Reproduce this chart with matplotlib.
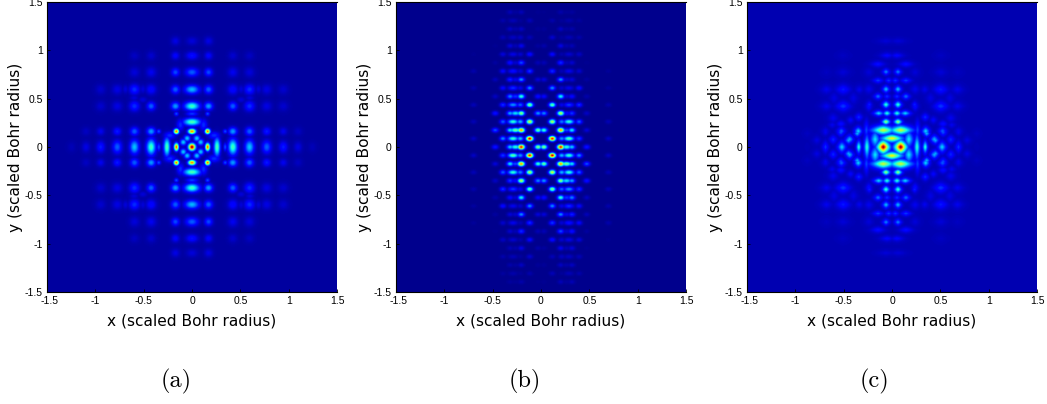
import numpy as np
import matplotlib
matplotlib.use('Agg')
import matplotlib.pyplot as plt
from matplotlib.transforms import ScaledTranslation

W, H = 1047, 404

# Tick labels and captions
tick_vals = [-1.5, -1, -0.5, 0, 0.5, 1, 1.5]
tick_labels = ['-1.5', '-1', '-0.5', '0', '0.5', '1', '1.5']
captions = ['(a)', '(b)', '(c)']

# Panel (a), one quadrant of peaks, mirrored in both axes
a_x = [0, .162, 0, .162, .05, .09, .26, 0, .345, 0, .162, .345, .23, .12,
       .424, .597, .776, .948, 1.10, 1.25, 0, 0, 0, 0, 0,
       .424, .597, .776, .948, 1.10, .172, .172, .172, .172, .172,
       .424, .597, .424, .597, .776, .776, .948, .948, .424, .597,
       .51, .51, .6, .69, .424, .597]
a_y = [0, 0, .162, .162, .09, .05, 0, .26, 0, .345, .345, .162, .12, .23,
       0, 0, 0, 0, 0, 0, .424, .597, .776, .948, 1.10,
       .162, .162, .162, .162, .162, .424, .597, .776, .948, 1.10,
       .424, .424, .597, .597, .424, .597, .424, .597, .776, .776,
       .6, .49, .51, .6, .948, .948]
a_v = [1.0, .82, .78, .80, .33, .33, .44, .44, .2, .18, .2, .2, .17, .17,
       .42, .32, .22, .15, .09, .05, .42, .31, .22, .14, .08,
       .28, .22, .15, .1, .06, .28, .22, .2, .12, .09,
       .22, .17, .13, .17, .09, .09, .07, .07, .1, .08,
       .08, .08, .08, .08, .07, .06]
a_wx = [.024, .016, .026, .018, .022, .022, .022, .06, .012, .04, .015, .015, .04, .026,
        .032, .032, .032, .03, .028, .03, .052, .05, .045, .042, .04,
        .03, .03, .028, .028, .03, .03, .03, .028, .028, .03,
        .03, .036, .036, .036, .036, .036, .036, .036, .036, .036,
        .02, .03, .03, .02, .032, .032]
a_wy = [.024, .026, .018, .018, .022, .022, .065, .026, .028, .016, .015, .015, .026, .04,
        .055, .05, .045, .04, .038, .035, .03, .03, .03, .028, .028,
        .028, .03, .028, .028, .03, .028, .03, .028, .028, .03,
        .03, .036, .036, .036, .036, .036, .036, .036, .036, .036,
        .03, .02, .02, .03, .032, .032]

# Panel (b), rows of spots 0.0875 apart, right half; left half is the inverted copy
b_rows = list(range(-16, 17))
b_even_cols = [.03, .205, .265, .32, .475]
b_odd_cols = [.117, .215, .29, .395, .70]
b_vals = [
    [.02, .05, .03, .05, .015],  # -16
    [.05, .025, .05, .04, .015],
    [.025, .06, .04, .06, .015],
    [.05, .06, .06, .05, .015],
    [.03, .1, .05, .08, .02],
    [.13, .07, .09, .08, .02],
    [.05, .2, .07, .14, .03],
    [.18, .08, .14, .12, .04],
    [.08, .26, .1, .16, .05],
    [.26, .1, .17, .12, .04],
    [.14, .42, .18, .26, .06],
    [.5, .22, .27, .17, .05],
    [.28, .52, .36, .3, .14],
    [.62, .32, .42, .22, .05],
    [.48, .75, .48, .36, .2],
    [.95, .32, .42, .26, .06],
    [.52, .92, .42, .34, .15],  # 0
    [.9, .28, .46, .18, .06],
    [.42, .75, .2, .36, .08],
    [.58, .26, .42, .22, .05],
    [.26, .58, .13, .18, .06],
    [.46, .1, .18, .17, .04],
    [.12, .38, .08, .13, .04],
    [.26, .07, .1, .13, .03],
    [.08, .26, .07, .08, .03],
    [.17, .05, .1, .07, .025],
    [.05, .17, .05, .07, .02],
    [.12, .04, .07, .06, .015],
    [.04, .09, .04, .05, .015],
    [.07, .03, .05, .04, .015],
    [.025, .06, .03, .04, .015],
    [.04, .025, .04, .03, .012],
    [.018, .04, .025, .03, .012],
]
b_spacing = .0875

# Panel (c), one quadrant of peaks, mirrored in both axes
c_x = [.09, 0, .09, .175, .26, .345, .44, .52, .35, .525, .69, .61, .69,
       .062, .052, .138, .062, .235, .052, .145, .062, .145, .035, .062, .145, .052, .062,
       .507, .507, .68, .68, .6, .4, .507, .507, .265, .24,
       .36, .53, .69, .88, .45, .61, .78, .24, .24, .88, .61,
       .345, .53, .62, .43, .68, .34]
c_y = [0, .09, .175, .08, 0, 0, .08, 0, .165, .165, 0, .08, .165,
       .262, .35, .35, .44, .44, .525, .525, .6, .69, .69, .78, .86, .95, 1.10,
       .597, .424, .597, .424, .507, .507, .776, .95, .175, .6,
       .14, .15, .15, .14, .07, .07, .07, .424, .776, 0, .3,
       .31, .24, .23, .28, .776, .597]
c_v = [1.0, .66, .6, .36, .42, .42, .3, .34, .34, .22, .17, .16, .1,
       .56, .42, .34, .42, .16, .18, .24, .32, .18, .18, .26, .14, .12, .08,
       .15, .18, .1, .1, .09, .09, .08, .06, .2, .1,
       .3, .2, .1, .06, .3, .16, .09, .14, .08, .05, .1,
       .17, .14, .1, .12, .06, .1]
c_wx = [.034, .06, .065, .028, .017, .014, .024, .024, .022, .024, .02, .024, .024,
        .022, .022, .03, .02, .016, .02, .024, .02, .03, .02, .02, .04, .04, .05,
        .042, .042, .036, .036, .03, .03, .04, .04, .016, .03,
        .02, .022, .022, .025, .022, .022, .025, .02, .03, .02, .03,
        .022, .026, .026, .022, .034, .026]
c_wy = [.034, .022, .026, .05, .07, .036, .024, .03, .024, .024, .034, .024, .024,
        .016, .016, .016, .02, .02, .016, .018, .02, .016, .016, .018, .018, .018, .018,
        .03, .03, .028, .028, .04, .04, .028, .028, .055, .03,
        .02, .022, .022, .025, .022, .022, .025, .03, .03, .03, .03,
        .022, .02, .02, .022, .028, .026]

# Axes boxes in pixels (left, right) and the shared top and bottom
ax_left = [47, 396, 747]
caption_x = [176, 525, 875]
ax_top, ax_bot = 2, 292


def mirror(x, y, v, wx, wy):
    seen = {}
    for xi, yi, vi, wxi, wyi in zip(x, y, v, wx, wy):
        for sx in (1, -1):
            for sy in (1, -1):
                seen[(sx * xi, sy * yi)] = (vi, wxi, wyi)
    return [(k[0], k[1], *val) for k, val in seen.items()]


def field(peaks, power=2.0, bg=.03):
    xs = np.linspace(-1.5, 1.5, 301)
    X, Y = np.meshgrid(xs, xs)
    Z = np.full(X.shape, bg)
    for x0, y0, v, wx, wy in peaks:
        r = (np.abs(X - x0) / wx) ** power + (np.abs(Y - y0) / wy) ** power
        Z = np.maximum(Z, bg + (v - bg) * np.exp(-r / 2))
    return Z


def peaks_b():
    out = []
    for k, row in zip(b_rows, b_vals):
        cols = b_even_cols if k % 2 == 0 else b_odd_cols
        for i, (cx, v) in enumerate(zip(cols, row)):
            wx = .036 if i == 2 else .024
            y0 = k * b_spacing
            out.append((cx, y0, v, wx, .017))
            out.append((-cx, -y0, v, wx, .017))
    return out


panels = [
    field(mirror(a_x, a_y, a_v, a_wx, a_wy)),
    field(peaks_b(), bg=.012),
    field(mirror(c_x, c_y, c_v, c_wx, c_wy), power=1.5, bg=.045),
]

fig = plt.figure(figsize=(W / 100, H / 100), dpi=100)
for i, Z in enumerate(panels):
    x0 = ax_left[i]
    ax = fig.add_axes([x0 / W, 1 - ax_bot / H, 290 / W, (ax_bot - ax_top) / H])
    ax.imshow(Z, cmap='jet', vmin=0, vmax=1, origin='lower',
              extent=[-1.5, 1.5, -1.5, 1.5], interpolation='bilinear', aspect='auto')
    ax.set_xlim(-1.5, 1.5)
    ax.set_ylim(-1.5, 1.5)
    ax.set_xticks(tick_vals)
    ax.set_xticklabels(tick_labels, family='Liberation Sans')
    ax.set_yticks(tick_vals)
    ax.set_yticklabels(tick_labels, family='Liberation Sans')
    ax.tick_params(direction='in', length=2.5, width=.6, labelsize=7.5, pad=3)
    ax.spines['right'].set_visible(False)
    ax.xaxis.get_ticklabels()[0].set_transform(
        ax.xaxis.get_ticklabels()[0].get_transform()
        + ScaledTranslation(3 / 100, 0, fig.dpi_scale_trans))
    ax.set_xlabel('x (scaled Bohr radius)', fontsize=11.1, labelpad=5)
    ax.set_ylabel('y (scaled Bohr radius)', fontsize=11.1, labelpad=1)
    fig.text(caption_x[i] / W, 1 - 381 / H, captions[i], family='cmr10',
             fontsize=17.5, ha='center', va='center')

fig.savefig('out.png', dpi=100)
